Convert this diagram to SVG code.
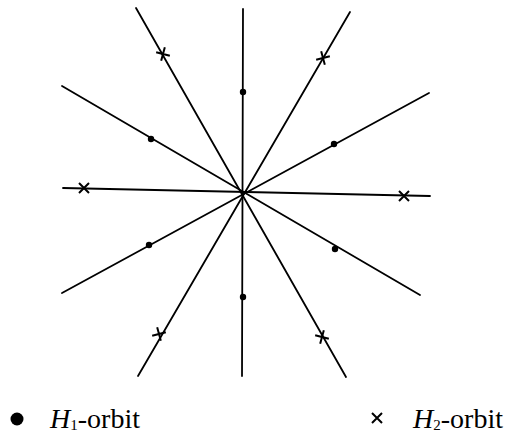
<svg xmlns="http://www.w3.org/2000/svg" width="511" height="434" viewBox="0 0 511 434">
<style>
.ln{stroke:#000;stroke-width:1.8;fill:none;stroke-linecap:round}
.x{stroke:#000;stroke-width:2;fill:none}
.dot{fill:#000}
.t{font-family:"Liberation Serif","Times New Roman",serif;font-size:28px;fill:#000}
</style>
<defs>
<path id="xm" class="x" d="M-5,-5L5,5M-5,5L5,-5"/>
</defs>
<rect width="511" height="434" fill="#fff"/>
<g id="connectors">
<line class="ln" x1="243" y1="9" x2="242" y2="376"/>
<line class="ln" x1="136" y1="8" x2="346" y2="377"/>
<line class="ln" x1="350" y1="12" x2="138" y2="376"/>
<line class="ln" x1="62" y1="86" x2="420" y2="295"/>
<line class="ln" x1="429" y1="93" x2="62" y2="293"/>
<line class="ln" x1="63" y1="188" x2="430" y2="196"/>
</g>
<g id="h1-points">
<circle class="dot" cx="243" cy="92" r="3.2"/>
<circle class="dot" cx="243" cy="297" r="3.2"/>
<circle class="dot" cx="151" cy="139" r="3.2"/>
<circle class="dot" cx="334" cy="144" r="3.2"/>
<circle class="dot" cx="149" cy="245" r="3.2"/>
<circle class="dot" cx="335" cy="249" r="3.2"/>
</g>
<g id="h2-points">
<use href="#xm" transform="translate(163,54) rotate(60)"/>
<use href="#xm" transform="translate(323,58) rotate(-60)"/>
<use href="#xm" transform="translate(84,188)"/>
<use href="#xm" transform="translate(404,196)"/>
<use href="#xm" transform="translate(159,334) rotate(-60)"/>
<use href="#xm" transform="translate(322,337) rotate(60)"/>
</g>
<g id="legend-h1">
<circle class="dot" cx="17" cy="419" r="6.5"/>
<text class="t" x="50" y="428"><tspan font-style="italic">H</tspan><tspan font-size="15" dy="2">1</tspan><tspan dy="-2">-orbit</tspan></text>
</g>
<g id="legend-h2">
<path class="x" stroke-width="1.6" d="M372,413L382,423M372,423L382,413"/>
<text class="t" x="413" y="428"><tspan font-style="italic">H</tspan><tspan font-size="15" dy="2">2</tspan><tspan dy="-2">-orbit</tspan></text>
</g>
</svg>
